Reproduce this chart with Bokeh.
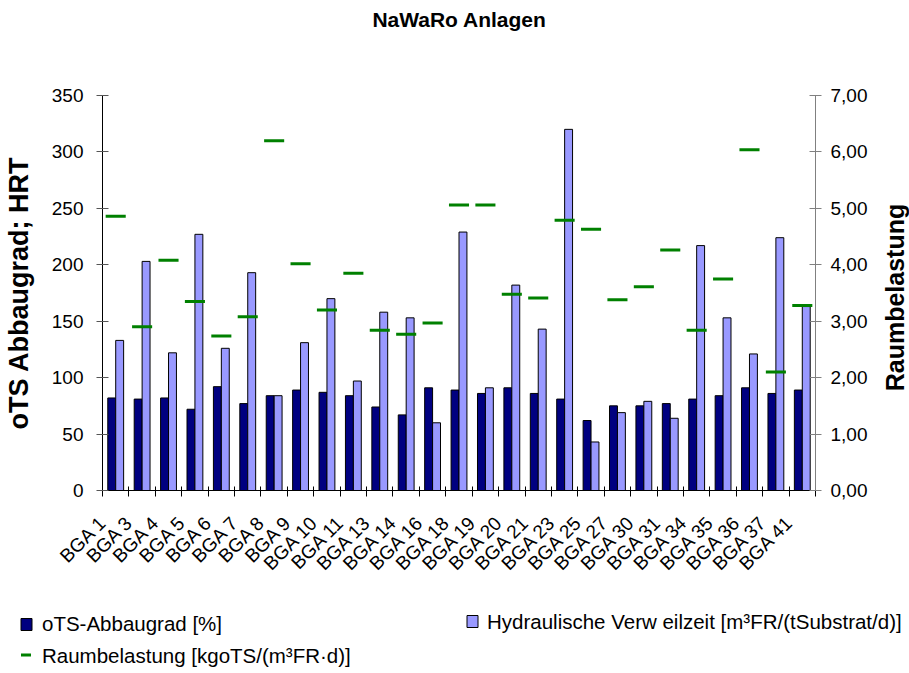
import math

from bokeh.core.properties import value
from bokeh.embed import file_html
from bokeh.layouts import column, row
from bokeh.models import (ColumnDataSource, CustomJSTickFormatter, FixedTicker,
                          LinearAxis, Range1d)
from bokeh.plotting import figure
from bokeh.resources import INLINE
from bokeh.transform import dodge

# Biogas plants (renewable-feedstock plants)
plants = ["BGA 1", "BGA 3", "BGA 4", "BGA 5", "BGA 6", "BGA 7", "BGA 8", "BGA 9",
          "BGA 10", "BGA 11", "BGA 13", "BGA 14", "BGA 16", "BGA 18", "BGA 19",
          "BGA 20", "BGA 21", "BGA 23", "BGA 25", "BGA 27", "BGA 30", "BGA 31",
          "BGA 34", "BGA 35", "BGA 36", "BGA 37", "BGA 41"]

# oTS-Abbaugrad [%] (left axis)
ots_abbaugrad = [82, 81, 82, 72, 92, 77, 84, 89, 87, 84, 74, 67, 91, 89, 86,
                 91, 86, 81, 62, 75, 75, 77, 81, 84, 91, 86, 89]

# Hydraulische Verweilzeit (left axis)
hrt = [133, 203, 122, 227, 126, 193, 84, 131, 170, 97, 158, 153, 60, 229, 91,
       182, 143, 320, 43, 69, 79, 64, 217, 153, 121, 224, 163]

# Raumbelastung [kgoTS/(m³FR·d)] (right axis)
raumbelastung = [4.86, 2.90, 4.08, 3.35, 2.74, 3.08, 6.20, 4.02, 3.20, 3.85,
                 2.84, 2.77, 2.97, 5.06, 5.06, 3.48, 3.41, 4.79, 4.63, 3.38,
                 3.61, 4.26, 2.84, 3.75, 6.04, 2.10, 3.28]

left_ticks = [0, 50, 100, 150, 200, 250, 300, 350]
right_ticks = [0, 1, 2, 3, 4, 5, 6, 7]

title_text = "NaWaRo Anlagen"
left_title = "oTS Abbaugrad; HRT"
right_title = "Raumbelastung"
legend_labels = ["oTS-Abbaugrad [%]",
                 "Hydraulische Verw eilzeit [m³FR/(tSubstrat/d)]",
                 "Raumbelastung [kgoTS/(m³FR·d)]"]

FONT = "Liberation Sans"
NAVY = "#000080"
LAVENDER = "#9999FF"
GREEN = "#008000"

W = 909
TOP_H, MAIN_H, LEG_H = 40, 553, 80
RIGHT_W = 30                      # strip holding the right axis title
MAIN_W = W - RIGHT_W
BORDER_TOP, BORDER_BOTTOM = 55, 103


def strip(width, height, x_end, y_start, y_end, **borders):
    """A bare figure without axes, grid or outline."""
    f = figure(width=width, height=height, output_backend="svg", toolbar_location=None,
               x_range=Range1d(0, x_end), y_range=Range1d(y_start, y_end),
               x_axis_location=None, y_axis_location=None,
               min_border=0, min_border_left=0, min_border_right=0,
               min_border_top=borders.get("top", 0),
               min_border_bottom=borders.get("bottom", 0))
    f.xgrid.visible = False
    f.ygrid.visible = False
    f.outline_line_color = None
    return f


# ---- title strip (pixel units, y downwards) -----------------------------
head = strip(W, TOP_H, W, TOP_H, 0)
head.text(x=[459], y=[19], text=[title_text], text_font=value(FONT),
          text_font_size="21px", text_font_style="bold", text_color="black",
          text_align="center", text_baseline="middle")

# ---- main chart --------------------------------------------------------
n = len(plants)
slots = [i + 0.5 for i in range(n)]
source = ColumnDataSource(dict(x=slots, ots=ots_abbaugrad, hrt=hrt, rb=raumbelastung))

p = figure(width=MAIN_W, height=MAIN_H, output_backend="svg", toolbar_location=None,
           x_range=Range1d(0, n), y_range=Range1d(0, 350),
           min_border_left=101, min_border_right=MAIN_W - 815,
           min_border_top=BORDER_TOP, min_border_bottom=BORDER_BOTTOM)
p.extra_y_ranges = {"rb": Range1d(0, 7)}
p.xgrid.visible = False
p.ygrid.visible = False
p.outline_line_color = None

p.vbar(x=dodge("x", -0.15), top="ots", width=0.3, source=source,
       fill_color=NAVY, line_color="black", line_width=1)
p.vbar(x=dodge("x", 0.15), top="hrt", width=0.3, source=source,
       fill_color=LAVENDER, line_color="black", line_width=1)
p.segment(x0=dodge("x", -0.38), x1=dodge("x", 0.38), y0="rb", y1="rb",
          source=source, y_range_name="rb", line_color=GREEN, line_width=3)

# category axis: slanted labels anchored at the left edge of each slot,
# tick marks at the slot boundaries
LABEL_SHIFT = 0.49
xa = p.xaxis[0]
xa.ticker = FixedTicker(ticks=[s - LABEL_SHIFT for s in slots], minor_ticks=list(range(n + 1)))
xa.formatter = CustomJSTickFormatter(
    args=dict(names=plants, shift=LABEL_SHIFT),
    code="const i = Math.round(tick + shift - 0.5); return (i >= 0 && i < names.length) ? names[i] : '';")
xa.major_label_orientation = math.pi / 4
xa.major_tick_line_color = None
xa.major_tick_in = 0
xa.major_tick_out = 4
xa.minor_tick_in = 4
xa.minor_tick_out = 6
xa.minor_tick_line_color = "black"
xa.axis_line_color = "black"
xa.major_label_text_font = FONT
xa.major_label_text_font_size = "19px"
xa.major_label_text_color = "black"
xa.major_label_standoff = 23

ya = p.yaxis[0]
ya.ticker = FixedTicker(ticks=left_ticks)
ya.axis_label = left_title
ya.axis_label_text_font = FONT
ya.axis_label_text_font_size = "27px"
ya.axis_label_text_font_style = "bold"
ya.axis_label_text_color = "black"
ya.axis_label_standoff = 15
ya.major_label_text_font = FONT
ya.major_label_text_font_size = "19px"
ya.major_label_text_color = "black"
ya.major_label_standoff = 13
ya.major_tick_in = 6
ya.major_tick_out = 6
ya.minor_tick_line_color = None
ya.axis_line_color = "black"
ya.major_tick_line_color = "#555555"

ra = LinearAxis(y_range_name="rb", ticker=FixedTicker(ticks=right_ticks),
                formatter=CustomJSTickFormatter(code="return tick.toFixed(2).replace('.', ',');"))
ra.major_label_text_font = FONT
ra.major_label_text_font_size = "19px"
ra.major_label_text_color = "black"
ra.major_label_standoff = 9
ra.major_tick_in = 6
ra.major_tick_out = 6
ra.minor_tick_line_color = None
ra.axis_line_color = "#808080"
ra.major_tick_line_color = "#808080"
p.add_layout(ra, "right")

# ---- right axis title, reading bottom to top -----------------------------
side = strip(RIGHT_W, MAIN_H, RIGHT_W, 0, 350, top=BORDER_TOP, bottom=BORDER_BOTTOM)
side.text(x=[15], y=[171], text=[right_title], angle=math.pi / 2,
          text_font=value(FONT), text_font_size="25px", text_font_style="bold",
          text_color="black", text_align="center", text_baseline="middle")

# ---- legend strip (pixel units, y downwards) ----------------------------
leg = strip(W, LEG_H, W, LEG_H, 0)
y0 = TOP_H + MAIN_H  # canvas y of the strip's top edge
leg.rect(x=[26, 472], y=[624 - y0, 621 - y0], width=11, height=12,
         fill_color=[NAVY, LAVENDER], line_color="black", line_width=1)
leg.segment(x0=[20.5], x1=[30.5], y0=[654.5 - y0], y1=[654.5 - y0],
            line_color=GREEN, line_width=3)
leg.text(x=[41.5, 486.5, 41.5], y=[622.5 - y0, 620.5 - y0, 654.5 - y0], text=legend_labels,
         text_font=value(FONT), text_font_size="20.5px", text_color="black",
         text_align="left", text_baseline="middle")

# the chart sits in its own row so the text strips keep their full width
layout = column(head, row(p, side, spacing=0), leg, spacing=0)
open("out.html", "w").write(file_html(layout, INLINE))
